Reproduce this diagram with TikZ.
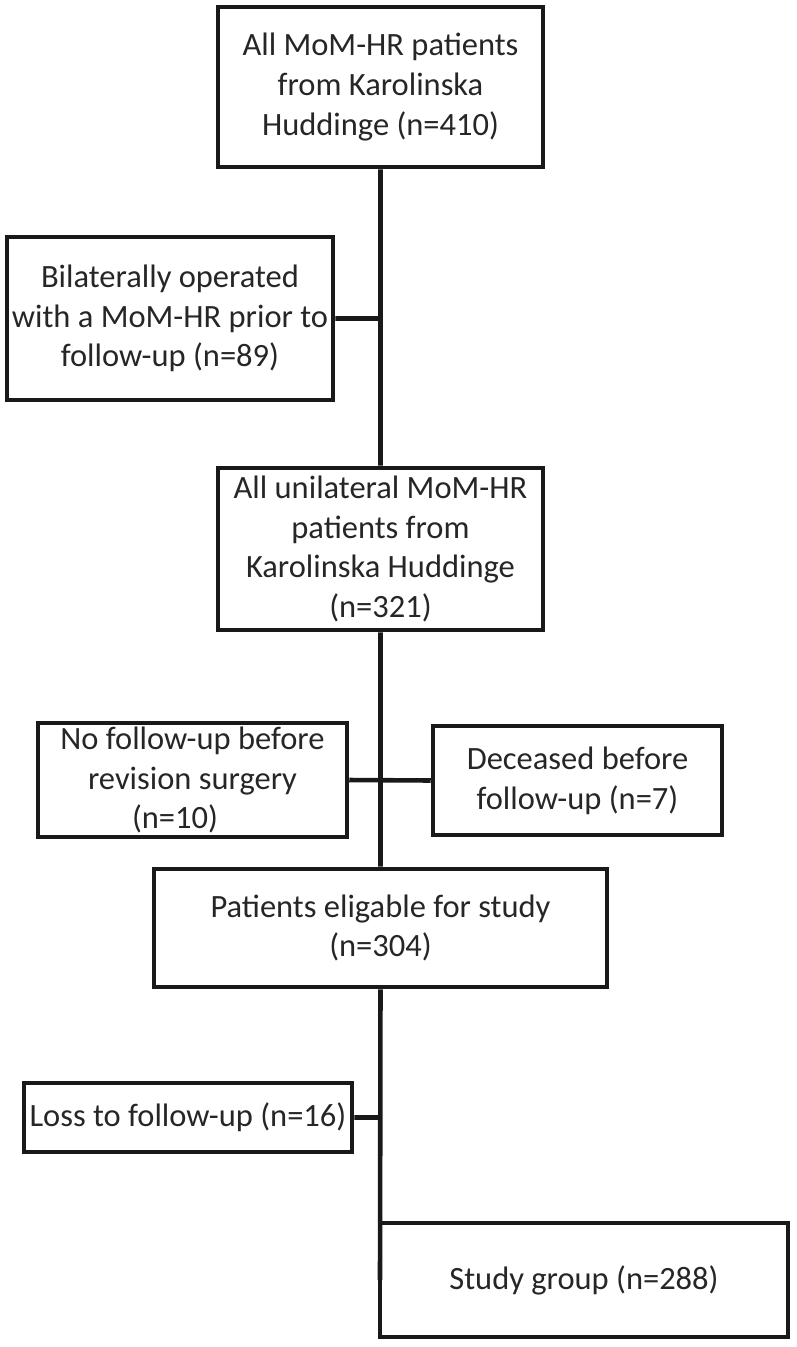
\documentclass[tikz,border=0pt]{standalone}
\usepackage{fontspec}
\setmainfont{Carlito}
\usetikzlibrary{positioning}
\begin{document}
\begin{tikzpicture}[%
        x=0.02cm, y=-0.02cm,
        every node/.style={rectangle, draw=black!90, line width=2.6pt, align=center, inner sep=0pt, text=black!85, font=\fontsize{18.5}{22.6}\selectfont},
        line width=2.6pt
      ]
      \useasboundingbox (0,0) rectangle (797,1347);
      \node [] (0) [minimum width=6.5cm, minimum height=3.2cm] at (380.5,87) {All MoM-HR patients\\from Karolinska\\Huddinge (n=410)};
      \node [] (1) [minimum width=6.52cm, minimum height=3.26cm] at (170,318.5) {Bilaterally operated\\with a MoM-HR prior to\\follow-up (n=89)};
      \node [] (2) [minimum width=6.5cm, minimum height=3.24cm] at (380.5,549) {All unilateral MoM-HR\\patients from\\Karolinska Huddinge\\(n=321)};
      \node [] (3) [minimum width=6.18cm, minimum height=2.28cm] at (192.5,780) {No follow-up before\\revision surgery\\(n=10)\hspace*{0.7cm}};
      \node [] (4) [minimum width=5.78cm, minimum height=2.18cm] at (577.5,780.5) {Deceased before\\follow-up (n=7)};
      \node [] (5) [minimum width=9.06cm, minimum height=2.36cm] at (380.5,928) {Patients eligable for study\\(n=304)};
      \node [] (6) [minimum width=6.56cm, minimum height=1.38cm] at (188,1117.5) {Loss to follow-up (n=16)};
      \node [] (7) [minimum width=8.16cm, minimum height=2.28cm] at (584,1280) {Study group (n=288)};
      \coordinate (e) at (380,1280);
      \draw [black!90] (0) -- (2)
      (1.east) -- (1.east -| 0.south)
      (2) -- (5)
      (3.east) -- (4.west)
      (5.south) -- (e)
      (6.east) -- (6.east -| e);
    \end{tikzpicture}
\end{document}
